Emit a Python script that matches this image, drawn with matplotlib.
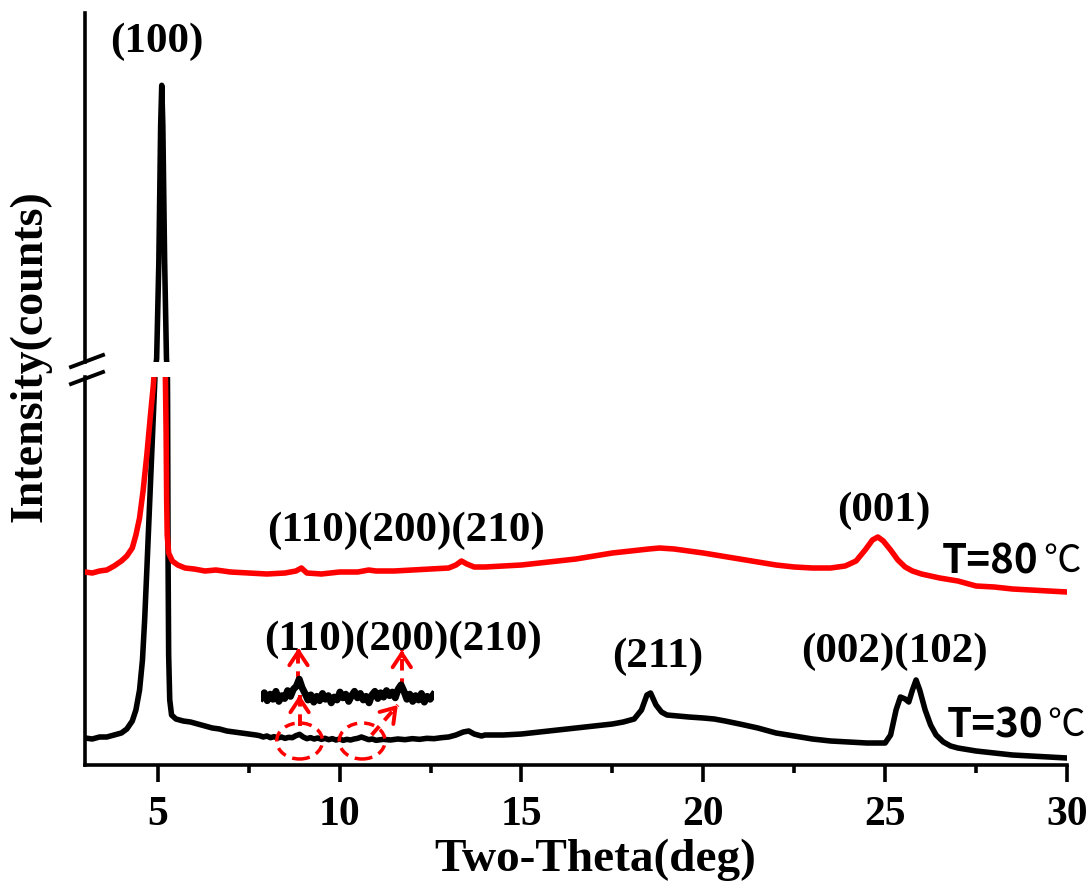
import numpy as np
import matplotlib
matplotlib.use("Agg")
import matplotlib.pyplot as plt
from matplotlib.patches import Ellipse
from matplotlib.lines import Line2D

# XRD scan at 30 C (two-theta in deg, intensity in counts)
theta_30 = [3.0, 3.2, 3.4, 3.6, 3.8, 4.0, 4.15, 4.3, 4.4, 4.5, 4.58, 4.64, 4.7, 4.78, 4.86, 4.92,
            4.97, 5.03, 5.08, 5.11, 5.14, 5.19, 5.24, 5.27, 5.285, 5.30, 5.33, 5.38, 5.5, 5.7,
            5.9, 6.1, 6.3, 6.5, 6.7, 6.9, 7.1, 7.3, 7.5, 7.7,
            7.8, 7.9, 8.0, 8.1, 8.2, 8.3, 8.4, 8.5, 8.6, 8.7, 8.8, 8.9, 9.0, 9.1, 9.2, 9.3,
            9.4, 9.5, 9.6, 9.7, 9.8, 9.9, 10.0, 10.1, 10.2, 10.3, 10.4, 10.5, 10.6, 10.7,
            10.8, 10.9, 11.0, 11.2, 11.4, 11.6, 11.8, 12.0, 12.2, 12.4, 12.6, 12.8, 13.0,
            13.2, 13.4, 13.55, 13.7, 13.9, 14.0, 14.5, 15.0, 15.5, 16.0, 16.5, 17.0, 17.5,
            17.8, 18.1, 18.3, 18.45, 18.55, 18.7, 18.85, 19.0, 19.3, 19.6, 20.0, 20.3, 20.6,
            21.0, 21.5, 22.0, 22.5, 23.0, 23.5, 24.0, 24.5, 25.0, 25.15, 25.3, 25.42, 25.55,
            25.65, 25.75, 25.85, 25.95, 26.1, 26.25, 26.4, 26.6, 26.8, 27.0, 27.5, 28.0,
            28.5, 29.0, 29.5, 30.0]
counts_30 = [81, 78, 84, 84, 90, 96, 108, 132, 165, 225, 315, 435, 585, 795, 1005, 1155,
             1600, 4500, 8600, 9800, 8600, 4500, 1600, 1100, 600, 330, 195, 150, 138, 132,
             129, 123, 117, 111, 108, 102, 99, 96, 93, 90,
             88, 84, 87, 82, 85, 81, 84, 80, 83, 82, 88, 92, 84, 79, 82, 78,
             81, 77, 80, 76, 79, 75, 78, 74, 77, 75, 78, 80, 84, 80,
             76, 78, 74, 77, 75, 78, 76, 79, 77, 80, 79, 82, 84,
             90, 99, 102, 93, 87, 90, 90, 93, 99, 105, 111, 117, 123,
             129, 138, 165, 210, 216, 180, 159, 150, 147, 144, 141, 138, 132,
             123, 111, 96, 87, 78, 72, 69, 66, 66, 90, 165, 204, 198,
             189, 225, 255, 225, 165, 120, 90, 69, 57, 51, 42, 36,
             30, 27, 24, 21]

# XRD scan at 80 C
theta_80 = [3.0, 3.2, 3.4, 3.6, 3.8, 4.0, 4.15, 4.3, 4.4, 4.5, 4.6, 4.7, 4.8, 4.88, 4.95,
            5.02, 5.08, 5.14, 5.2, 5.23, 5.245, 5.26, 5.3, 5.4, 5.55, 5.75, 6.0, 6.3, 6.6,
            7.0, 7.5, 8.0, 8.5, 8.8, 8.95, 9.1, 9.5, 10.0, 10.5, 10.8, 11.0, 11.5, 12.0,
            12.5, 13.0, 13.2, 13.35, 13.5, 13.7, 14.0, 14.5, 15.0, 15.5, 16.0, 16.5, 17.0,
            17.5, 18.0, 18.5, 18.8, 19.2, 19.6, 20.0, 20.5, 21.0, 21.5, 22.0, 22.5, 23.0,
            23.5, 23.9, 24.2, 24.45, 24.65, 24.8, 24.95, 25.15, 25.35, 25.55, 25.75, 26.0,
            26.5, 27.0, 27.5, 28.0, 28.5, 29.0, 29.5, 30.0]
counts_80 = [579, 576, 582, 585, 597, 612, 627, 651, 690, 741, 825, 930, 1050, 1140, 1260,
             1380, 1420, 1380, 1250, 1000, 800, 690, 636, 612, 600, 591, 588, 582, 585,
             579, 576, 573, 576, 582, 591, 576, 573, 579, 579, 585, 582, 582, 585,
             588, 591, 600, 612, 603, 594, 594, 597, 600, 606, 612, 618, 627,
             636, 642, 648, 651, 648, 642, 636, 627, 618, 609, 600, 594, 591,
             591, 597, 612, 645, 675, 684, 672, 645, 615, 594, 582, 573,
             561, 552, 537, 534, 528, 525, 522, 519]

# magnified stretch of the 30 C baseline (arbitrary units)
zoom_counts = [24, 31, 20, 29, 22, 33, 19, 27, 23, 34, 26, 36, 40, 50, 38, 30, 21, 28, 18, 26,
               20, 30, 22, 27, 17, 25, 21, 32, 24, 29, 19, 27, 33, 24, 30, 21, 26, 17, 28, 33,
               23, 31, 25, 34, 27, 32, 24, 36, 42, 33, 22, 29, 19, 27, 21, 30, 18, 26, 22, 28]
zoom_theta = np.linspace(7.85, 12.57, len(zoom_counts))

W, H = 1091, 885
serif = ["Liberation Serif", "DejaVu Serif"]
cjk = ["Noto Sans CJK SC", "DejaVu Sans"]


def px(x0, y0, x1, y1):
    # pixel box -> figure fraction rect
    return [x0 / W, 1 - y1 / H, (x1 - x0) / W, (y1 - y0) / H]


fig = plt.figure(figsize=(W / 100, H / 100), dpi=100)
ax = fig.add_axes(px(85, 377, 1067, 765))
ax_top = fig.add_axes(px(85, 13, 1067, 362))

ax.plot(theta_30, counts_30, color="black", lw=4, zorder=2)
ax.plot(theta_80, counts_80, color="red", lw=4, zorder=3)
ax_top.plot(theta_30, counts_30, color="black", lw=4)

ax.set_xlim(3, 30)
ax.set_ylim(0, 1164)
ax_top.set_xlim(3, 30)
ax_top.set_ylim(1500, 11970)

for a in (ax, ax_top):
    a.spines["top"].set_visible(False)
    a.spines["right"].set_visible(False)
    a.spines["left"].set_linewidth(2.6)
    a.set_yticks([])
ax_top.spines["bottom"].set_visible(False)
ax_top.set_xticks([])
ax.spines["bottom"].set_linewidth(2.6)

ax.set_xticks([5, 10, 15, 20, 25, 30])
ax.set_xticks([7.5, 12.5, 17.5, 22.5, 27.5], minor=True)
ax.tick_params(axis="x", which="major", direction="out", length=12, width=2.6, pad=10)
ax.tick_params(axis="x", which="minor", direction="out", length=6, width=2.6)
for lab in ax.get_xticklabels():
    lab.set_fontfamily(serif)
    lab.set_fontweight("bold")
    lab.set_fontsize(30)

fig.text(595 / W, 1 - 871 / H, "Two-Theta(deg)", ha="center", va="baseline",
         family=serif, weight="bold", fontsize=34)
fig.text(30 / W, 1 - 356 / H, "Intensity(counts)", ha="center", va="center",
         rotation=90, family=serif, weight="bold", fontsize=33)

# axis break marks
for y in (367, 384):
    fig.add_artist(Line2D([71 / W, 103 / W], [1 - y / H, 1 - (y - 12) / H],
                          color="black", lw=2.8))

# peak indices
lab_kw = dict(ha="center", va="center", family=serif, weight="bold", fontsize=31)
ax_top.text(4.98, 11100, "(100)", **lab_kw)
ax.text(11.82, 702, "(110)(200)(210)", **lab_kw)
ax.text(24.95, 762, "(001)", **lab_kw)
ax.text(11.74, 375, "(110)(200)(210)", **lab_kw)
ax.text(18.74, 324, "(211)", **lab_kw)
ax.text(25.25, 339, "(002)(102)", **lab_kw)

# temperatures
ax.text(26.57, 609, "T=80", ha="left", va="center", family=cjk, weight="bold", fontsize=29)
ax.text(29.35, 612, "℃", ha="left", va="center", family=cjk, fontsize=27)
ax.text(26.68, 117, "T=30", ha="left", va="center", family=cjk, weight="bold", fontsize=29)
ax.text(29.45, 120, "℃", ha="left", va="center", family=cjk, fontsize=27)

# enlarged baseline
ins = ax.inset_axes([7.85, 150, 4.75, 129], transform=ax.transData)
ins.plot(zoom_theta, zoom_counts, color="black", lw=5)
ins.set_xlim(7.85, 12.6)
ins.set_ylim(0, 60)
ins.axis("off")

# dashed circles on the weak reflections
for cx in (8.9, 10.62):
    ax.add_patch(Ellipse((cx, 72), 1.26, 108, fill=False, ec="red", lw=2.5,
                         ls=(0, (3, 2)), zorder=4))


# dashed shaft with a solid open head at the tip
def arrow_head(start, tip):
    ax.plot([start[0], tip[0]], [start[1], tip[1]], color="red", lw=2.8,
            ls=(0, (3, 2)), zorder=5)
    sx = tip[0] - (tip[0] - start[0]) * 0.15
    sy = tip[1] - (tip[1] - start[1]) * 0.15
    ax.annotate("", xy=tip, xytext=(sx, sy),
                arrowprops=dict(arrowstyle="->,head_length=0.45,head_width=0.3",
                                color="red", lw=2.8, mutation_scale=22,
                                shrinkA=0, shrinkB=0),
                zorder=5)


arrow_head((8.9, 117), (8.9, 210))
arrow_head((8.87, 246), (8.87, 351))
arrow_head((10.88, 90), (11.6, 180))
arrow_head((11.71, 225), (11.71, 345))

fig.savefig("out.png", dpi=100)
